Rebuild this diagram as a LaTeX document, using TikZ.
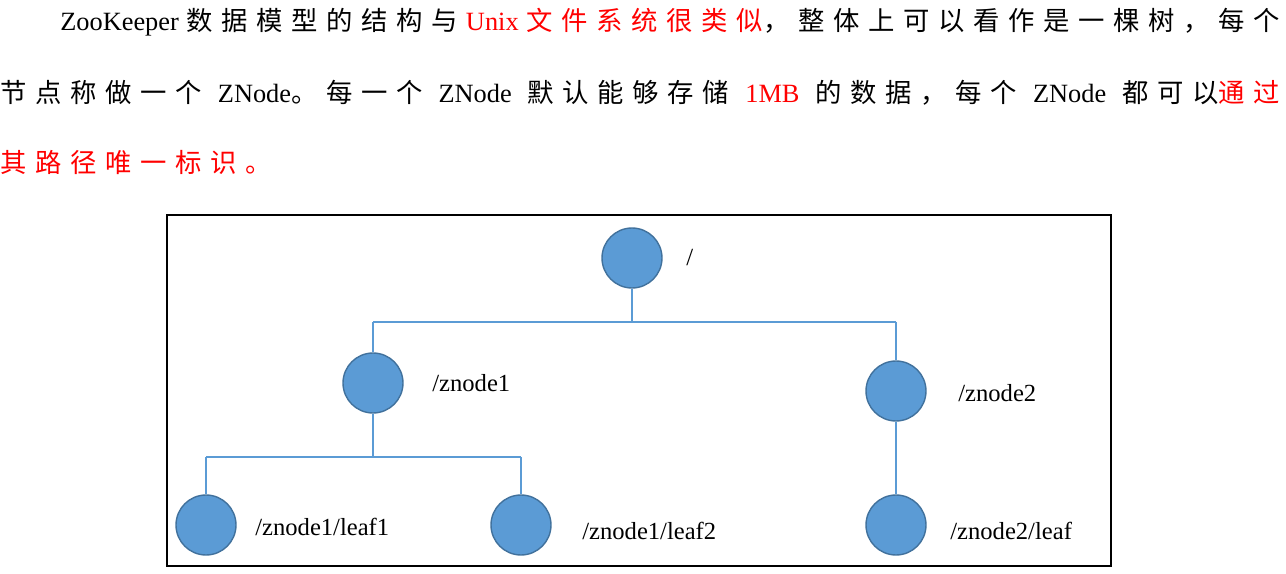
\documentclass[tikz,border=0pt]{standalone}
\usepackage{fontspec}
\setmainfont{Liberation Serif}
\newfontfamily\cjk[LetterSpace=33]{Noto Sans CJK SC}
\begin{document}
\begin{tikzpicture}[x=0.02cm,y=-0.02cm,
  zn/.style={circle,draw={rgb,255:red,65;green,113;blue,156},fill={rgb,255:red,91;green,155;blue,213},line width=0.8pt,minimum size=1.2cm,inner sep=0pt},
  lbl/.style={anchor=west,font=\fontsize{14}{16}\selectfont,inner sep=0pt},
  txt/.style={anchor=west,font=\fontsize{15}{18}\selectfont,inner sep=0pt},
  ln/.style={draw={rgb,255:red,91;green,155;blue,213},line width=0.6pt}]
\useasboundingbox (0,0) rectangle (1286,574);
\node[txt] (t1) at (60,22) {\makebox[24.4cm][s]{ZooKeeper {\cjk 数据模型的结构与} \textcolor{red}{Unix {\cjk 文件系统很类似}}{\cjk ，整体上可以看作是一棵树，每个}}};
\node[txt] (t2) at (0,93) {\makebox[25.6cm][s]{{\cjk 节点称做一个} ZNode{\cjk 。每一个} ZNode {\cjk 默认能够存储} \textcolor{red}{1MB} {\cjk 的数据，每个} ZNode {\cjk 都可以}\textcolor{red}{\cjk 通过}}};
\node[txt] (t3) at (0,162) {\textcolor{red}{\cjk 其路径唯一标识。}};
\draw[black,line width=0.8pt] (167,215) rectangle (1111,566);
\node[zn] (r) at (632,258) {};
\node[zn] (a) at (373,383) {};
\node[zn] (b) at (896,391) {};
\node[zn] (a1) at (206,525) {};
\node[zn] (a2) at (521,525) {};
\node[zn] (b1) at (896,525) {};
\coordinate (h1) at (632,322);
\coordinate (h2) at (373,457);
\draw[ln] (r.south) -- (h1) (373,322) -- (896,322) (373,322) -- (a.north) (896,322) -- (b.north);
\draw[ln] (a.south) -- (h2) (206,457) -- (521,457) (206,457) -- (a1.north) (521,457) -- (a2.north);
\draw[ln] (b.south) -- (b1.north);
\node[lbl] (lr) at (686,258) {/};
\node[lbl] (la) at (432,383) {/znode1};
\node[lbl] (lb) at (958,393) {/znode2};
\node[lbl] (la1) at (255,527) {/znode1/leaf1};
\node[lbl] (la2) at (582,531) {/znode1/leaf2};
\node[lbl] (lb1) at (950,531) {/znode2/leaf};
\end{tikzpicture}
\end{document}
